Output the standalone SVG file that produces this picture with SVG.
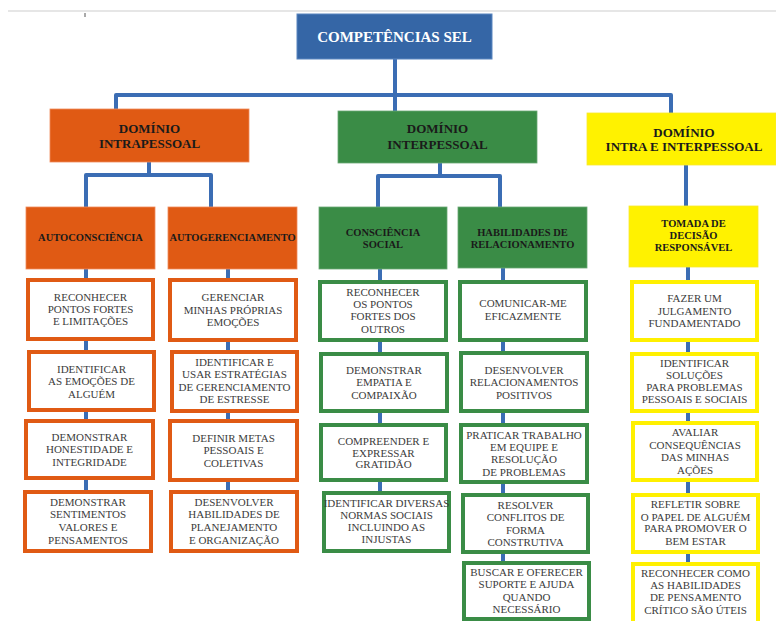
<svg xmlns="http://www.w3.org/2000/svg" width="776" height="621" viewBox="0 0 776 621">
  <style>
    .bg { fill: #ffffff; }
    .wire { fill: none; stroke: #3b6db4; stroke-width: 4; stroke-linejoin: round; stroke-linecap: butt; }
    .title { fill: #3566a6; stroke: #5b86c0; stroke-width: 1; }
    .title-t { font-family: "Liberation Serif", serif; font-weight: bold; font-size: 15px; fill: #ffffff; text-anchor: middle; }
    .orange { fill: #e05a14; stroke: #f08a5a; stroke-width: 0.8; }
    .green { fill: #3a8c46; stroke: #6aa874; stroke-width: 0.8; }
    .yellow { fill: #fff200; stroke: #f8e830; stroke-width: 0.8; }
    .dom-t { font-family: "Liberation Serif", serif; font-weight: bold; font-size: 13px; fill: #1a1a1a; text-anchor: middle; }
    .sub-t { font-family: "Liberation Serif", serif; font-weight: bold; font-size: 10.5px; fill: #1a1a1a; text-anchor: middle; }
    .leaf-o { fill: #ffffff; stroke: #e05a14; stroke-width: 4; }
    .leaf-g { fill: #ffffff; stroke: #3a8c46; stroke-width: 4; }
    .leaf-y { fill: #ffffff; stroke: #fff000; stroke-width: 4; }
    .leaf-t { font-family: "Liberation Serif", serif; font-size: 11px; fill: #3c3c3c; text-anchor: middle; }
  </style>

  <rect class="bg" x="0" y="0" width="776" height="621"/>
  <!-- page edge line and stray mark at the top -->
  <line x1="8" y1="11" x2="776" y2="11" stroke="#e6e6e6" stroke-width="2"/>
  <line x1="85" y1="13" x2="85" y2="17" stroke="#555" stroke-width="1"/>

  <!-- connectors -->
  <g id="connectors">
    <path class="wire" d="M395,59 V111"/>
    <path class="wire" d="M116,109 V95 H671 V113"/>
    <!-- intrapessoal -->
    <path class="wire" d="M149,162 V175"/>
    <path class="wire" d="M86,207 V175 H211 V207"/>
    <!-- interpessoal -->
    <path class="wire" d="M440,163 V176"/>
    <path class="wire" d="M378,207 V176 H500 V207"/>
    <!-- intra e interpessoal -->
    <path class="wire" d="M686,165 V206"/>
    <!-- autoconsciência column -->
    <path class="wire" d="M86,269 V278 M86,341 V350 M86,412 V419 M86,480 V490"/>
    <!-- autogerenciamento column -->
    <path class="wire" d="M228,269 V278 M228,342 V350 M228,413 V419 M228,482 V490"/>
    <!-- consciência social column -->
    <path class="wire" d="M380,269 V280 M380,342 V352 M380,413 V423 M380,482 V491"/>
    <!-- habilidades de relacionamento column -->
    <path class="wire" d="M503,268 V280 M503,342 V351 M503,413 V423 M503,484 V493 M503,554 V561"/>
    <!-- tomada de decisão column -->
    <path class="wire" d="M688,267 V280 M688,342 V352 M688,413 V421 M688,482 V493 M688,554 V562"/>
  </g>

  <!-- root -->
  <g id="competencias">
    <rect class="title" x="297" y="14" width="195" height="45"/>
    <text class="title-t" x="394.5" y="42">COMPETÊNCIAS SEL</text>
  </g>

  <!-- domains -->
  <g id="dominio-intrapessoal">
    <rect class="orange" x="50" y="109" width="199" height="53"/>
    <text class="dom-t" x="149.5" y="133">DOMÍNIO</text>
    <text class="dom-t" x="149.5" y="148">INTRAPESSOAL</text>
  </g>
  <g id="dominio-interpessoal">
    <rect class="green" x="338" y="111" width="199" height="52"/>
    <text class="dom-t" x="437.5" y="133">DOMÍNIO</text>
    <text class="dom-t" x="437.5" y="149">INTERPESSOAL</text>
  </g>
  <g id="dominio-intra-inter">
    <rect class="yellow" x="587" y="113" width="189" height="52"/>
    <text class="dom-t" x="684" y="137">DOMÍNIO</text>
    <text class="dom-t" x="684" y="151">INTRA E INTERPESSOAL</text>
  </g>

  <!-- competence headings -->
  <g id="autoconsciencia">
    <rect class="orange" x="26" y="207" width="129" height="62"/>
    <text class="sub-t" x="90.5" y="241">AUTOCONSCIÊNCIA</text>
  </g>
  <g id="autogerenciamento">
    <rect class="orange" x="168" y="207" width="129" height="62"/>
    <text class="sub-t" x="232.5" y="241">AUTOGERENCIAMENTO</text>
  </g>
  <g id="consciencia-social">
    <rect class="green" x="319" y="207" width="128" height="62"/>
    <text class="sub-t" x="383" y="236">CONSCIÊNCIA</text>
    <text class="sub-t" x="383" y="248">SOCIAL</text>
  </g>
  <g id="habilidades-relacionamento">
    <rect class="green" x="458" y="207" width="129" height="61"/>
    <text class="sub-t" x="522.5" y="236">HABILIDADES DE</text>
    <text class="sub-t" x="522.5" y="248">RELACIONAMENTO</text>
  </g>
  <g id="tomada-decisao">
    <rect class="yellow" x="629" y="206" width="129" height="61"/>
    <text class="sub-t" x="693.5" y="227">TOMADA DE</text>
    <text class="sub-t" x="693.5" y="239">DECISÃO</text>
    <text class="sub-t" x="693.5" y="251">RESPONSÁVEL</text>
  </g>

  <!-- autoconsciência skills -->
  <g id="ac-1">
    <rect class="leaf-o" x="28" y="280" width="125" height="59"/>
    <text class="leaf-t" x="90.5" y="301">RECONHECER</text>
    <text class="leaf-t" x="90.5" y="313">PONTOS FORTES</text>
    <text class="leaf-t" x="90.5" y="325">E LIMITAÇÕES</text>
  </g>
  <g id="ac-2">
    <rect class="leaf-o" x="29" y="352" width="125" height="58"/>
    <text class="leaf-t" x="91.5" y="373">IDENTIFICAR</text>
    <text class="leaf-t" x="91.5" y="385">AS EMOÇÕES DE</text>
    <text class="leaf-t" x="91.5" y="398">ALGUÉM</text>
  </g>
  <g id="ac-3">
    <rect class="leaf-o" x="26" y="421" width="127" height="57"/>
    <text class="leaf-t" x="89.5" y="441">DEMONSTRAR</text>
    <text class="leaf-t" x="89.5" y="453">HONESTIDADE E</text>
    <text class="leaf-t" x="89.5" y="466">INTEGRIDADE</text>
  </g>
  <g id="ac-4">
    <rect class="leaf-o" x="25" y="492" width="126" height="59"/>
    <text class="leaf-t" x="88" y="506">DEMONSTRAR</text>
    <text class="leaf-t" x="88" y="518">SENTIMENTOS</text>
    <text class="leaf-t" x="88" y="531">VALORES E</text>
    <text class="leaf-t" x="88" y="544">PENSAMENTOS</text>
  </g>

  <!-- autogerenciamento skills -->
  <g id="ag-1">
    <rect class="leaf-o" x="170" y="280" width="126" height="60"/>
    <text class="leaf-t" x="233" y="301">GERENCIAR</text>
    <text class="leaf-t" x="233" y="314">MINHAS PRÓPRIAS</text>
    <text class="leaf-t" x="233" y="326">EMOÇÕES</text>
  </g>
  <g id="ag-2">
    <rect class="leaf-o" x="172" y="352" width="125" height="59"/>
    <text class="leaf-t" x="234.5" y="366">IDENTIFICAR E</text>
    <text class="leaf-t" x="234.5" y="378">USAR ESTRATÉGIAS</text>
    <text class="leaf-t" x="234.5" y="391">DE GERENCIAMENTO</text>
    <text class="leaf-t" x="234.5" y="403">DE ESTRESSE</text>
  </g>
  <g id="ag-3">
    <rect class="leaf-o" x="170" y="421" width="127" height="59"/>
    <text class="leaf-t" x="233.5" y="442">DEFINIR METAS</text>
    <text class="leaf-t" x="233.5" y="454">PESSOAIS E</text>
    <text class="leaf-t" x="233.5" y="467">COLETIVAS</text>
  </g>
  <g id="ag-4">
    <rect class="leaf-o" x="171" y="492" width="126" height="59"/>
    <text class="leaf-t" x="234" y="506">DESENVOLVER</text>
    <text class="leaf-t" x="234" y="518">HABILIDADES DE</text>
    <text class="leaf-t" x="234" y="531">PLANEJAMENTO</text>
    <text class="leaf-t" x="234" y="544">E ORGANIZAÇÃO</text>
  </g>

  <!-- consciência social skills -->
  <g id="cs-1">
    <rect class="leaf-g" x="320" y="282" width="126" height="58"/>
    <text class="leaf-t" x="383" y="296">RECONHECER</text>
    <text class="leaf-t" x="383" y="308">OS PONTOS</text>
    <text class="leaf-t" x="383" y="320">FORTES DOS</text>
    <text class="leaf-t" x="383" y="333">OUTROS</text>
  </g>
  <g id="cs-2">
    <rect class="leaf-g" x="321" y="354" width="126" height="57"/>
    <text class="leaf-t" x="384" y="374">DEMONSTRAR</text>
    <text class="leaf-t" x="384" y="386">EMPATIA E</text>
    <text class="leaf-t" x="384" y="399">COMPAIXÃO</text>
  </g>
  <g id="cs-3">
    <rect class="leaf-g" x="321" y="425" width="125" height="55"/>
    <text class="leaf-t" x="383.5" y="445">COMPREENDER E</text>
    <text class="leaf-t" x="383.5" y="457">EXPRESSAR</text>
    <text class="leaf-t" x="383.5" y="468">GRATIDÃO</text>
  </g>
  <g id="cs-4">
    <rect class="leaf-g" x="324" y="493" width="125" height="58"/>
    <text class="leaf-t" x="386.5" y="507">IDENTIFICAR DIVERSAS</text>
    <text class="leaf-t" x="386.5" y="519">NORMAS SOCIAIS</text>
    <text class="leaf-t" x="386.5" y="531">INCLUINDO AS</text>
    <text class="leaf-t" x="386.5" y="543">INJUSTAS</text>
  </g>

  <!-- habilidades de relacionamento skills -->
  <g id="hr-1">
    <rect class="leaf-g" x="460" y="282" width="126" height="58"/>
    <text class="leaf-t" x="523" y="307">COMUNICAR-ME</text>
    <text class="leaf-t" x="523" y="320">EFICAZMENTE</text>
  </g>
  <g id="hr-2">
    <rect class="leaf-g" x="461" y="353" width="126" height="58"/>
    <text class="leaf-t" x="524" y="374">DESENVOLVER</text>
    <text class="leaf-t" x="524" y="386">RELACIONAMENTOS</text>
    <text class="leaf-t" x="524" y="399">POSITIVOS</text>
  </g>
  <g id="hr-3">
    <rect class="leaf-g" x="461" y="425" width="126" height="57"/>
    <text class="leaf-t" x="524" y="439">PRATICAR TRABALHO</text>
    <text class="leaf-t" x="524" y="451">EM EQUIPE E</text>
    <text class="leaf-t" x="524" y="463">RESOLUÇÃO</text>
    <text class="leaf-t" x="524" y="476">DE PROBLEMAS</text>
  </g>
  <g id="hr-4">
    <rect class="leaf-g" x="463" y="495" width="125" height="57"/>
    <text class="leaf-t" x="525.5" y="509">RESOLVER</text>
    <text class="leaf-t" x="525.5" y="521">CONFLITOS DE</text>
    <text class="leaf-t" x="525.5" y="534">FORMA</text>
    <text class="leaf-t" x="525.5" y="546">CONSTRUTIVA</text>
  </g>
  <g id="hr-5">
    <rect class="leaf-g" x="464" y="563" width="125" height="56"/>
    <text class="leaf-t" x="526.5" y="576">BUSCAR E OFERECER</text>
    <text class="leaf-t" x="526.5" y="588">SUPORTE E AJUDA</text>
    <text class="leaf-t" x="526.5" y="601">QUANDO</text>
    <text class="leaf-t" x="526.5" y="613">NECESSÁRIO</text>
  </g>

  <!-- tomada de decisão responsável skills -->
  <g id="td-1">
    <rect class="leaf-y" x="632" y="282" width="125" height="58"/>
    <text class="leaf-t" x="694.5" y="302">FAZER UM</text>
    <text class="leaf-t" x="694.5" y="315">JULGAMENTO</text>
    <text class="leaf-t" x="694.5" y="327">FUNDAMENTADO</text>
  </g>
  <g id="td-2">
    <rect class="leaf-y" x="632" y="354" width="125" height="57"/>
    <text class="leaf-t" x="694.5" y="367">IDENTIFICAR</text>
    <text class="leaf-t" x="694.5" y="379">SOLUÇÕES</text>
    <text class="leaf-t" x="694.5" y="391">PARA PROBLEMAS</text>
    <text class="leaf-t" x="694.5" y="403">PESSOAIS E SOCIAIS</text>
  </g>
  <g id="td-3">
    <rect class="leaf-y" x="633" y="423" width="124" height="57"/>
    <text class="leaf-t" x="695" y="436">AVALIAR</text>
    <text class="leaf-t" x="695" y="449">CONSEQUÊNCIAS</text>
    <text class="leaf-t" x="695" y="461">DAS MINHAS</text>
    <text class="leaf-t" x="695" y="474">AÇÕES</text>
  </g>
  <g id="td-4">
    <rect class="leaf-y" x="633" y="495" width="125" height="57"/>
    <text class="leaf-t" x="695.5" y="508">REFLETIR SOBRE</text>
    <text class="leaf-t" x="695.5" y="521">O PAPEL DE ALGUÉM</text>
    <text class="leaf-t" x="695.5" y="532">PARA PROMOVER O</text>
    <text class="leaf-t" x="695.5" y="545">BEM ESTAR</text>
  </g>
  <g id="td-5">
    <rect class="leaf-y" x="633" y="564" width="125" height="62"/>
    <text class="leaf-t" x="695.5" y="577">RECONHECER COMO</text>
    <text class="leaf-t" x="695.5" y="589">AS HABILIDADES</text>
    <text class="leaf-t" x="695.5" y="601">DE PENSAMENTO</text>
    <text class="leaf-t" x="695.5" y="614">CRÍTICO SÃO ÚTEIS</text>
  </g>
</svg>
